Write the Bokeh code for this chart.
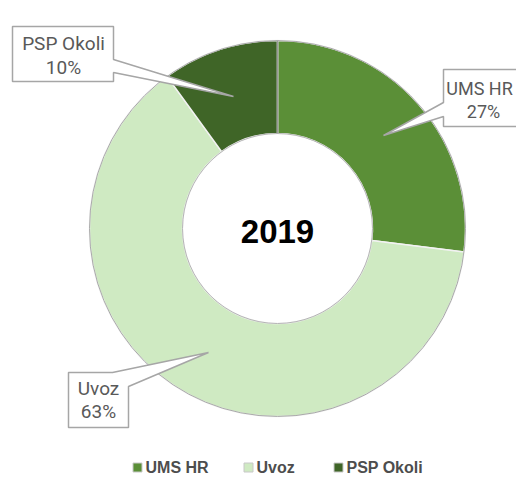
import numpy as np
from bokeh.plotting import figure
from bokeh.models import Range1d
from bokeh.core.properties import value
from bokeh.embed import file_html
from bokeh.resources import INLINE

# ---- data ----
year = "2019"
categories = ["UMS HR", "Uvoz", "PSP Okoli"]
shares = [27, 63, 10]
colors = ["#5b8f37", "#cfeac2", "#3f6527"]

# ---- layout helpers (page pixel -> data coords) ----
W, H = 516, 478
def X(px):
    return px
def Y(py):
    return H - py

p = figure(width=W, height=H, output_backend="svg", toolbar_location=None,
           x_range=Range1d(0, W), y_range=Range1d(0, H), min_border=0)
p.axis.visible = False
p.grid.visible = False
p.outline_line_color = None
p.background_fill_color = "white"
p.border_fill_color = "white"

cx, cy = X(277), Y(228)
R_out, R_in = 188, 95

vals = np.array(shares, dtype=float)
frac = vals / vals.sum()
ends = np.cumsum(frac)
starts = ends - frac
start_angles = np.pi / 2 - 2 * np.pi * starts
end_angles = np.pi / 2 - 2 * np.pi * ends

p.annular_wedge(x=cx, y=cy, inner_radius=R_in, outer_radius=R_out,
                start_angle=list(start_angles), end_angle=list(end_angles),
                direction="clock", fill_color=colors,
                line_color="#f2f2f2", line_width=1.5)
# subtle outer/inner edges
p.circle(x=cx, y=cy, radius=R_out, fill_color=None, line_color="#a9a9a9", line_width=1)
p.circle(x=cx, y=cy, radius=R_in, fill_color=None, line_color="#b5b5b5", line_width=1)
# separator at the top (between PSP Okoli and UMS HR)
p.segment(x0=cx, y0=cy + R_in, x1=cx, y1=cy + R_out, line_color="#9a9a9a", line_width=1.5)

# ---- callout labels ----
def callout(poly_px, c1, c2, name, pct, size="19px"):
    xs = [X(a) for a, b in poly_px]
    ys = [Y(b) for a, b in poly_px]
    p.patch(xs, ys, fill_color="white", line_color="#a6a6a6", line_width=1.5)
    p.text(x=[X(c1[0])], y=[Y(c1[1])], text=[name], text_align="center",
           text_baseline="middle", text_font=value("Roboto"), text_font_size=size,
           text_color="#595959")
    p.text(x=[X(c2[0])], y=[Y(c2[1])], text=[pct], text_align="center",
           text_baseline="middle", text_font=value("Roboto"), text_font_size=size,
           text_color="#595959")

pct_txt = [f"{int(round(v))}%" for v in frac * 100]

# UMS HR
callout([(443, 69), (530, 69), (530, 126), (443, 126), (443, 116), (383, 135), (443, 102)],
        (479, 88), (483, 111), categories[0], pct_txt[0], size="18px")
# Uvoz
callout([(68, 372), (112, 372), (208, 352), (128, 386), (128, 427), (68, 427)],
        (98, 388), (98, 411), categories[1], pct_txt[1])
# PSP Okoli
callout([(12, 26), (113, 26), (113, 59), (233, 96), (113, 72), (113, 81), (12, 81)],
        (63, 43), (63, 67), categories[2], pct_txt[2])

# ---- center text ----
p.text(x=[cx], y=[Y(231)], text=[year], text_align="center", text_baseline="middle",
       text_font=value("Liberation Sans"), text_font_style="bold",
       text_font_size="33px", text_color="black")

# ---- legend ----
leg_sq_x = [137, 248, 338]
leg_y = 467
p.rect(x=[X(v) for v in leg_sq_x], y=[Y(leg_y)] * 3, width=9, height=9,
       fill_color=colors, line_color="#c8c8c8", line_width=1)
p.text(x=[X(v + 8) for v in leg_sq_x], y=[Y(leg_y)] * 3, text=categories,
       text_align="left", text_baseline="middle", text_font=value("Liberation Sans"),
       text_font_style="bold", text_font_size="16px", text_color="#4d4d4d")

open("out.html", "w").write(file_html(p, INLINE))
